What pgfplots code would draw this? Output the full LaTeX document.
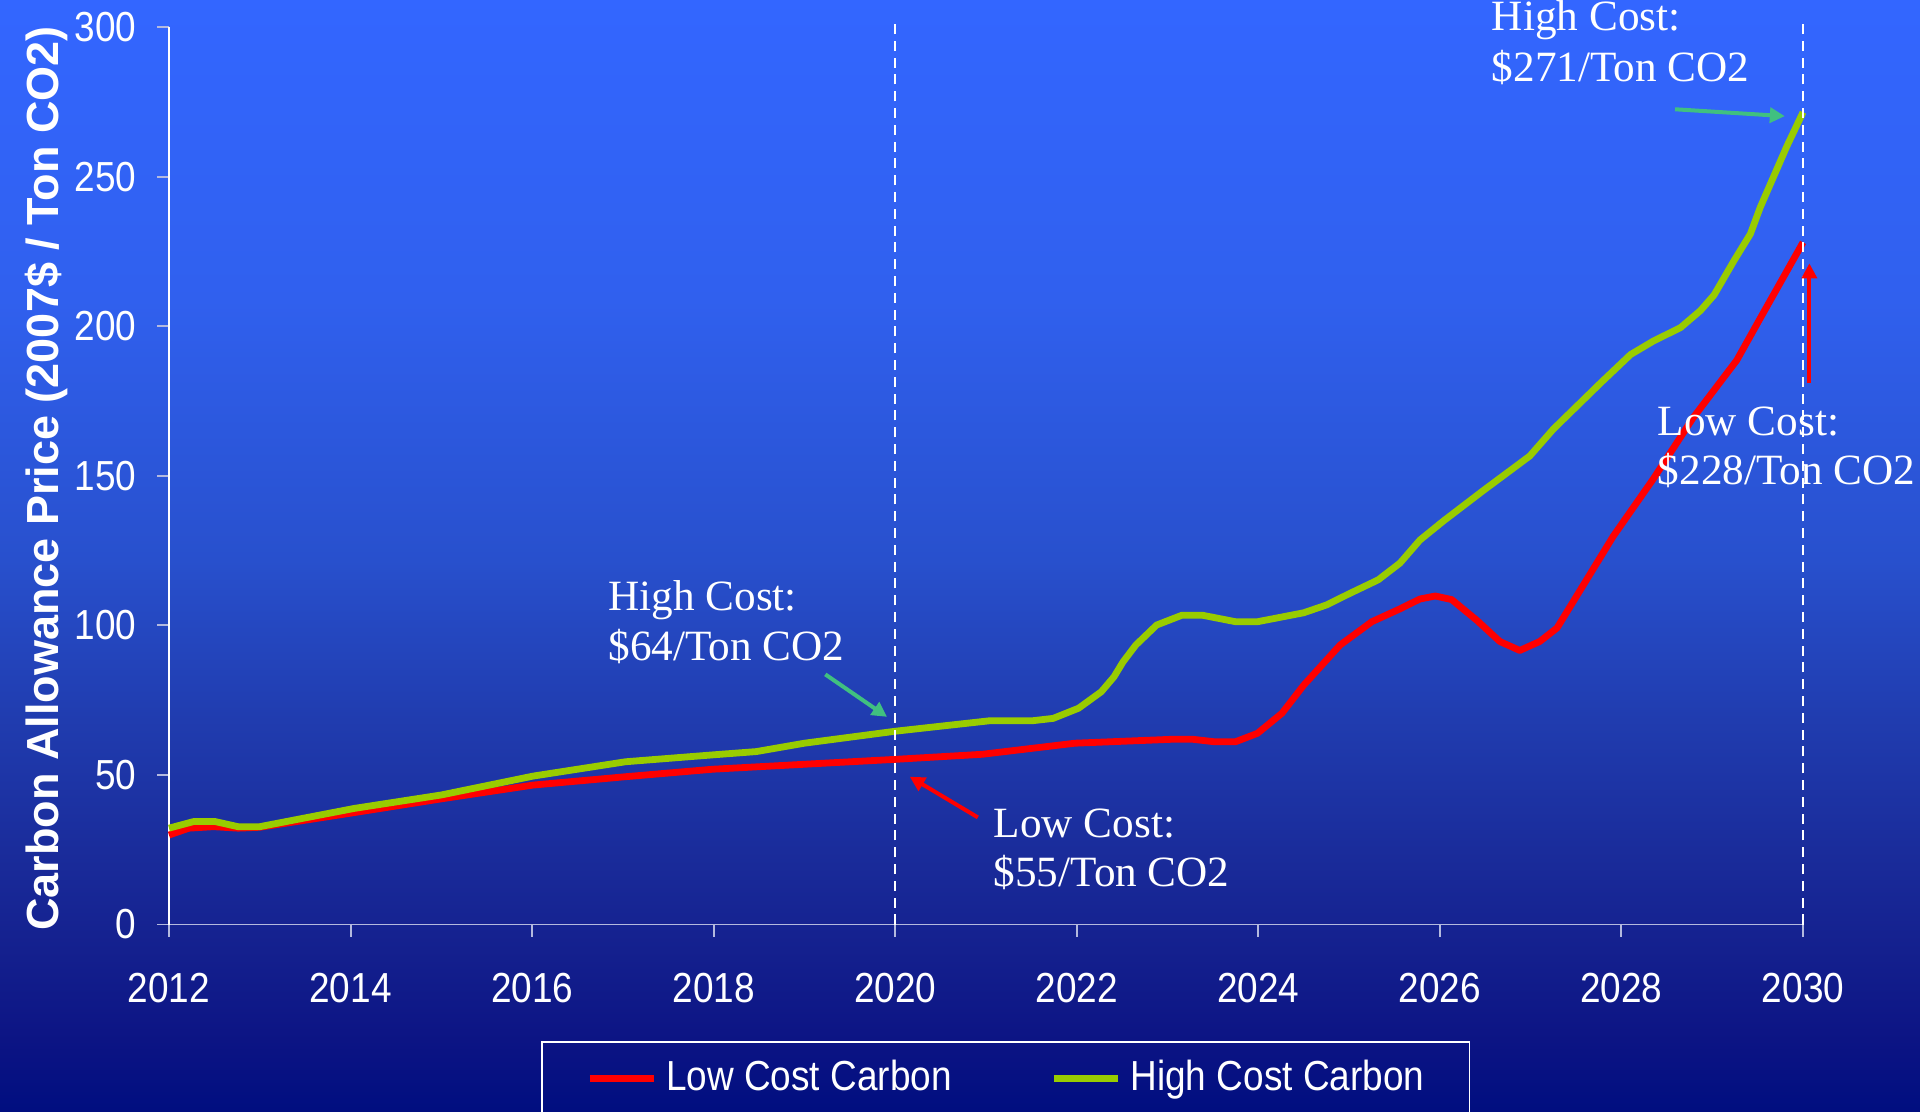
\documentclass[border=0pt]{standalone}
\usepackage{pgfplots}
\pgfplotsset{compat=1.18}
\usetikzlibrary{arrows.meta}
\usepackage{fontspec}
\setmainfont{Liberation Serif}
\newfontfamily\narrowsans[FakeStretch=0.88]{Liberation Sans}
\newfontfamily\plainsans{Liberation Sans}

\definecolor{c0}{RGB}{0,14,128}
\definecolor{c1}{RGB}{12,20,132}
\definecolor{c2}{RGB}{20,32,142}
\definecolor{c3}{RGB}{26,44,155}
\definecolor{c4}{RGB}{32,60,175}
\definecolor{c5}{RGB}{40,80,205}
\definecolor{c6}{RGB}{48,96,238}
\definecolor{c7}{RGB}{51,102,255}
\definecolor{lowred}{RGB}{255,0,0}
\definecolor{highgreen}{RGB}{153,204,0}
\definecolor{arrowgreen}{RGB}{64,192,128}
\definecolor{axisgray}{RGB}{180,186,222}

\pgfdeclareverticalshading{bgshade}{100bp}{color(0bp)=(c0); color(25bp)=(c0); color(28.24bp)=(c1); color(32.28bp)=(c2); color(36.78bp)=(c3); color(42.63bp)=(c4); color(49.82bp)=(c5); color(61.51bp)=(c6); color(75bp)=(c7); color(100bp)=(c7)}

\pgfplotstableread{
year value
2012.00 29.9
2012.22 32.2
2012.49 32.7
2012.76 32.2
2013.00 32.5
2014.04 37.4
2015.00 42.0
2016.01 46.6
2017.03 49.4
2017.99 51.9
2018.84 53.3
2020.00 55.2
2020.96 56.9
2021.98 60.6
2023.04 61.9
2023.28 61.9
2023.51 61.1
2023.75 61.1
2023.99 63.9
2024.26 70.6
2024.50 80.0
2024.90 93.4
2025.25 101.2
2025.56 105.5
2025.78 108.8
2025.95 109.8
2026.13 108.6
2026.41 101.6
2026.66 94.6
2026.88 91.6
2027.10 94.6
2027.29 99.1
2027.47 108.0
2027.91 129.8
2028.35 148.9
2028.79 169.4
2029.27 188.6
2029.53 202.7
2030.00 228.0
}\lowcost

\pgfplotstableread{
year value
2012.00 32.2
2012.27 34.4
2012.51 34.4
2012.76 32.7
2013.00 32.7
2014.04 38.8
2015.00 43.3
2016.01 49.6
2017.03 54.4
2017.99 56.7
2018.47 57.8
2019.00 60.6
2020.00 64.6
2021.04 68.1
2021.51 68.1
2021.74 68.9
2022.02 72.3
2022.27 77.8
2022.41 82.8
2022.51 87.8
2022.65 93.4
2022.88 100.1
2023.16 103.4
2023.38 103.4
2023.75 101.2
2023.99 101.2
2024.50 104.2
2024.75 106.8
2025.01 110.7
2025.32 115.2
2025.56 120.8
2025.78 128.5
2026.04 134.9
2026.48 145.1
2026.99 156.6
2027.25 165.6
2027.51 173.3
2027.77 181.0
2028.10 190.5
2028.35 195.0
2028.65 199.5
2028.87 205.2
2029.02 210.4
2029.24 221.9
2029.42 230.8
2029.53 239.8
2029.82 260.0
2030.00 271.5
}\highcost

\begin{document}
\begin{tikzpicture}
\shade[shading=bgshade] (0bp,0bp) rectangle (480bp,278bp);
\begin{axis}[
  at={(42.25bp,46.875bp)}, anchor=south west,
  scale only axis, width=408.5bp, height=224.375bp,
  xmin=2012, xmax=2030, ymin=0, ymax=300,
  axis x line*=bottom, axis y line*=left,
  axis line style={-},
  x axis line style={draw=axisgray, line width=0.5bp, shorten <=-2.75bp},
  y axis line style={draw=white, line width=0.5bp},
  xtick={2012,2014,2016,2018,2020,2022,2024,2026,2028,2030},
  xticklabels={2012,2014,2016,2018,2020,2022,2024,2026,2028,2030},
  ytick={0,50,100,150,200,250,300},
  yticklabels={0,50,100,150,200,250,300},
  tick align=outside,
  major tick length=3bp,
  tick style={draw=axisgray, line width=0.5bp},
  ticklabel style={font=\narrowsans\fontsize{10.5bp}{12bp}\selectfont, text=white},
  xticklabel style={anchor=north, inner ysep=0pt, yshift=-9bp},
  yticklabel style={anchor=east, inner xsep=0pt, xshift=-5bp},
  clip=false,
  ylabel={Carbon Allowance Price (2007\$ / Ton CO2)},
  ylabel style={font=\plainsans\bfseries\fontsize{11.25bp}{13bp}\selectfont, text=white, at={(axis description cs:-0.0749,0.497)}, anchor=center},
  legend columns=2,
  legend style={at={(0.2279,-0.1298)}, anchor=north west, draw=white, line width=0.4bp, fill=none, text=white,
    font=\narrowsans\fontsize{10.5bp}{12bp}\selectfont,
    inner xsep=9bp, inner ysep=4.45bp,
    nodes={inner xsep=2.3bp, inner ysep=0pt, text height=7.6bp, text depth=2bp},
    /tikz/every even column/.append style={column sep=20.4bp}},
  legend image code/.code={\path (0bp,0bp); \draw[#1] (2bp,0bp) -- (18bp,0bp);},
]
\addplot[lowred, line width=1.7bp, line join=round] table[x=year,y=value] {\lowcost};
\addlegendentry{Low Cost Carbon}
\addplot[highgreen, line width=1.7bp, line join=round] table[x=year,y=value] {\highcost};
\addlegendentry{High Cost Carbon}

\addplot[white, line width=0.45bp, dash pattern=on 2.5bp off 1.7bp, forget plot] coordinates {(2020,0) (2020,303)};
\addplot[white, line width=0.45bp, dash pattern=on 2.5bp off 1.7bp, forget plot] coordinates {(2030,0) (2030,303)};

\draw[arrowgreen, line width=1bp, -{Triangle[length=3.75bp,width=3.75bp]}] (axis cs:2019.23,83.6) -- (axis cs:2019.91,69.4);
\draw[lowred, line width=1bp, -{Triangle[length=3.75bp,width=3.75bp]}] (axis cs:2020.91,35.8) -- (axis cs:2020.16,49.4);
\draw[arrowgreen, line width=1bp, -{Triangle[length=3.75bp,width=3.75bp]}] (axis cs:2028.59,272.5) -- (axis cs:2029.80,270.2);
\draw[lowred, line width=1bp, -{Triangle[length=3.75bp,width=3.75bp]}] (axis cs:2030.07,181.1) -- (axis cs:2030.07,221);

\begin{scope}[every node/.style={font=\fontsize{10.8bp}{12bp}\selectfont, text=white, anchor=base west, inner sep=0pt}]
\node at (axis cs:2016.833,104.89) {High Cost:};
\node at (axis cs:2016.833,88.18) {\$64/Ton CO2};
\node at (axis cs:2021.077,29.15) {Low Cost:};
\node at (axis cs:2021.077,12.64) {\$55/Ton CO2};
\node at (axis cs:2026.565,298.76) {High Cost:};
\node at (axis cs:2026.565,281.72) {\$271/Ton CO2};
\node at (axis cs:2028.392,163.62) {Low Cost:};
\node at (axis cs:2028.392,146.91) {\$228/Ton CO2};
\end{scope}
\end{axis}
\pgfresetboundingbox
\useasboundingbox (0bp,0bp) rectangle (480bp,278bp);
\end{tikzpicture}
\end{document}
